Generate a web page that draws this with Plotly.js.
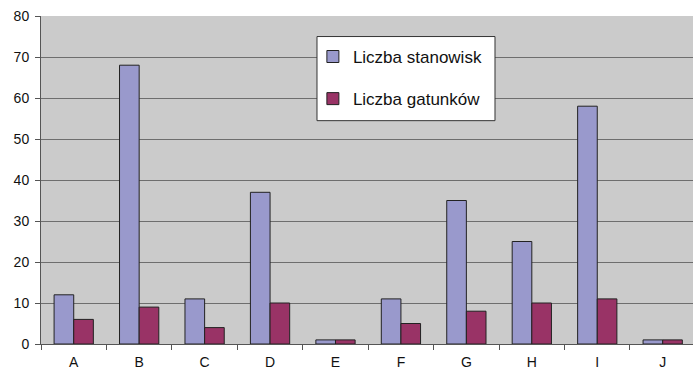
<!DOCTYPE html>
<html>
<head>
<meta charset="utf-8">
<script src="https://cdn.plot.ly/plotly-3.0.1.min.js"></script>
<style>
  html, body { margin: 0; padding: 0; background: #ffffff; }
  #chart { width: 693px; height: 369px; }
</style>
</head>
<body>
<div id="chart"></div>
<script>
// Sites and species counts per area
const categories = ['A', 'B', 'C', 'D', 'E', 'F', 'G', 'H', 'I', 'J'];
const seriesNames = ['Liczba stanowisk', 'Liczba gatunków'];
const stanowiska = [12, 68, 11, 37, 1, 11, 35, 25, 58, 1];
const gatunki = [6, 9, 4, 10, 1, 5, 8, 10, 11, 1];
const yTicks = [0, 10, 20, 30, 40, 50, 60, 70, 80];

const colors = ['#9999CC', '#993366'];
const font = 'Liberation Sans, Arial, sans-serif';

const traces = [stanowiska, gatunki].map((vals, i) => ({
  type: 'bar',
  name: seriesNames[i],
  x: categories,
  y: vals,
  marker: { color: colors[i], line: { color: '#222222', width: 1 } },
  legendgroup: 'g' + i,
  hoverinfo: 'x+y+name'
}));

const layout = {
  width: 693,
  height: 369,
  margin: { l: 41, r: 0, t: 16, b: 25 },
  paper_bgcolor: '#ffffff',
  plot_bgcolor: '#CBCBCB',
  barmode: 'group',
  bargap: 0.4,
  bargroupgap: 0,
  font: { family: font, color: '#111111', size: 14 },
  xaxis: {
    type: 'category',
    range: [-0.5, 9.463],
    tickson: 'boundaries',
    ticks: 'outside',
    ticklen: 5,
    tickcolor: '#555555',
    showline: true,
    linecolor: '#555555',
    linewidth: 1,
    showgrid: false,
    zeroline: false,
    ticklabelstandoff: 5,
    tickfont: { size: 14, color: '#111111' },
    fixedrange: true
  },
  yaxis: {
    range: [0, 80],
    tickvals: yTicks,
    ticks: 'outside',
    ticklen: 5,
    tickcolor: '#555555',
    showline: true,
    linecolor: '#555555',
    linewidth: 1,
    showgrid: true,
    gridcolor: '#6E6E6E',
    gridwidth: 1,
    zeroline: false,
    ticklabelstandoff: 3,
    tickfont: { size: 14, color: '#111111' },
    fixedrange: true
  },
  showlegend: true,
  legend: {
    x: 0.417,
    y: 0.93,
    xanchor: 'left',
    yanchor: 'top',
    bgcolor: 'rgba(0,0,0,0)',
    borderwidth: 0,
    traceorder: 'grouped',
    tracegroupgap: 17,
    font: { family: font, size: 17, color: '#111111' }
  },
  shapes: [{
    type: 'rect',
    xref: 'paper', yref: 'paper',
    x0: 0.4233, x1: 0.6963, y0: 0.6809, y1: 0.9374,
    fillcolor: '#ffffff',
    line: { color: '#333333', width: 1 },
    layer: 'above'
  }]
};

Plotly.newPlot('chart', traces, layout, { displayModeBar: false, staticPlot: true });
</script>
</body>
</html>
